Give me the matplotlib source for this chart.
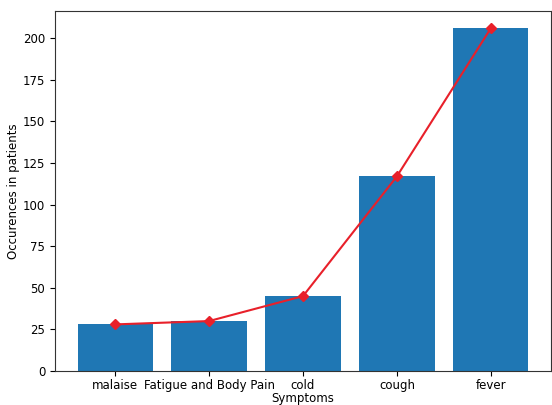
import matplotlib
matplotlib.use("Agg")
import matplotlib.pyplot as plt

# symptom counts
symptoms = ["malaise", "Fatigue and Body Pain", "cold", "cough", "fever"]
counts = [28, 30, 45, 117, 206]

plt.rcParams["font.size"] = 8.5

fig = plt.figure(figsize=(5.52, 4.05), dpi=100)
ax = fig.add_axes([55 / 552, 34 / 405, 496 / 552, 360 / 405])

ax.bar(symptoms, counts, color="#1f77b4")
ax.plot(symptoms, counts, color="#e8202a", marker="D", markersize=5, linewidth=1.5)

ax.tick_params(axis="x", pad=2)
ax.set_xlabel("Symptoms", labelpad=0)
ax.set_ylabel("Occurences in patients", labelpad=2)
for s in ax.spines.values():
    s.set_color("#333333")

fig.savefig("out.png", dpi=100)
